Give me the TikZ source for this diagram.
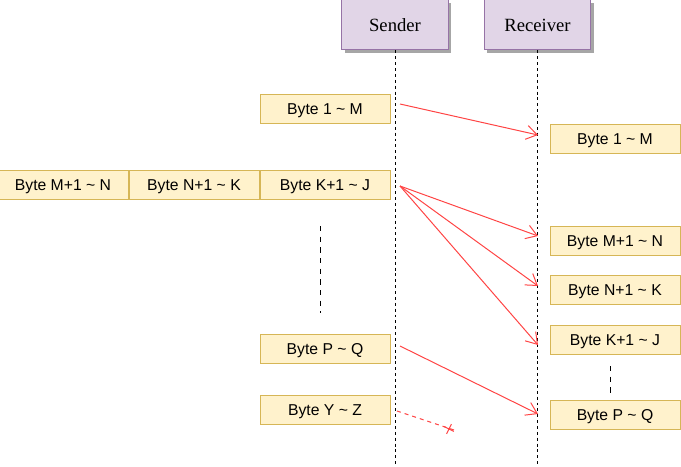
\documentclass[tikz,border=0pt]{standalone}
\usepackage{fontspec}
\setmainfont{Liberation Sans}
\newfontfamily\headfont{Liberation Serif}
\usetikzlibrary{arrows.meta, positioning, shapes.misc, shadows}

\definecolor{byteFill}{HTML}{FFF2CC}
\definecolor{byteLine}{HTML}{D6B656}
\definecolor{headFill}{HTML}{E1D5E7}
\definecolor{headLine}{HTML}{9673A6}
\definecolor{msgRed}{HTML}{FF4444}

\tikzset{
  bytebox/.style={draw=byteLine, fill=byteFill, line width=0.75pt, minimum width=97.5pt,
    minimum height=22pt, inner sep=0pt, text height=8.5pt, text depth=0pt,
    font=\fontsize{11.8}{14}\selectfont},
  headbox/.style={draw=headLine, fill=headFill, line width=0.75pt, minimum width=80pt,
    minimum height=37.5pt, inner sep=0pt, text height=9.5pt, text depth=0pt,
    font=\headfont\fontsize{14}{16}\selectfont,
    drop shadow={shadow xshift=2.2pt, shadow yshift=-2.2pt, fill=black!35, opacity=1}},
  lifeline/.style={black, line width=0.75pt, dash pattern=on 2.2pt off 2.2pt},
  gap/.style={black, line width=0.75pt, dash pattern=on 4pt off 4pt},
  msg/.style={msgRed, line width=0.75pt, -{Straight Barb[length=8pt, width=10.5pt]}},
}

\begin{document}
\begin{tikzpicture}[x=0.75pt, y=-0.75pt]
  \useasboundingbox (0,0) rectangle (681,467);

  % participants
  \node[headbox] (sender) at (395,25) {Sender};
  \node[headbox] (receiver) at (537.5,25) {Receiver};
  \coordinate (sendEnd) at (395,467);
  \coordinate (recvEnd) at (537.5,467);
  \draw[lifeline] (sender.south) -- (sendEnd);
  \draw[lifeline] (receiver.south) -- (recvEnd);

  % sent segments
  \node[bytebox] (sOneM) at (325,109) {Byte 1 \char`~{} M};
  \node[bytebox] (sKJ) at (325,185) {Byte K+1 \char`~{} J};
  \node[bytebox, left=0pt of sKJ] (sNK) {Byte N+1 \char`~{} K};
  \node[bytebox, left=0pt of sNK] (sMN) {Byte M+1 \char`~{} N};
  \node[bytebox] (sPQ) at (325,349) {Byte P \char`~{} Q};
  \node[bytebox] (sYZ) at (325,410) {Byte Y \char`~{} Z};
  \coordinate (sGapTop) at (320,226);
  \coordinate (sGapBot) at (320,313);
  \draw[gap] (sGapTop) -- (sGapBot);

  % received segments
  \node[bytebox] (rOneM) at (615,139) {Byte 1 \char`~{} M};
  \node[bytebox] (rMN) at (615,241) {Byte M+1 \char`~{} N};
  \node[bytebox] (rNK) at (615,290) {Byte N+1 \char`~{} K};
  \node[bytebox] (rKJ) at (615,340) {Byte K+1 \char`~{} J};
  \node[bytebox] (rPQ) at (615,415) {Byte P \char`~{} Q};
  \coordinate (rGapTop) at (610,366);
  \coordinate (rGapBot) at (610,393);
  \draw[gap] (rGapTop) -- (rGapBot);

  % messages
  \coordinate (outOneM) at (400,104);
  \coordinate (inOneM) at (538,135);
  \coordinate (outKJ) at (400,186);
  \coordinate (inMN) at (538,236);
  \coordinate (inNK) at (538,286);
  \coordinate (inKJ) at (538,345);
  \coordinate (outPQ) at (400,346);
  \coordinate (inPQ) at (538,414);
  \coordinate (outYZ) at (397,411);
  \coordinate (lostYZ) at (457,431);
  \draw[msg] (outOneM) -- (inOneM);
  \draw[msg] (outKJ) -- (inMN);
  \draw[msg] (outKJ) -- (inNK);
  \draw[msg] (outKJ) -- (inKJ);
  \draw[msg] (outPQ) -- (inPQ);
  \draw[msgRed, line width=0.75pt, dash pattern=on 3pt off 3pt] (outYZ) -- (lostYZ);
  \node[draw=msgRed, line width=0.75pt, cross out, minimum size=5pt, inner sep=0pt,
    rotate=18] (lost) at (449,429) {};
\end{tikzpicture}
\end{document}
